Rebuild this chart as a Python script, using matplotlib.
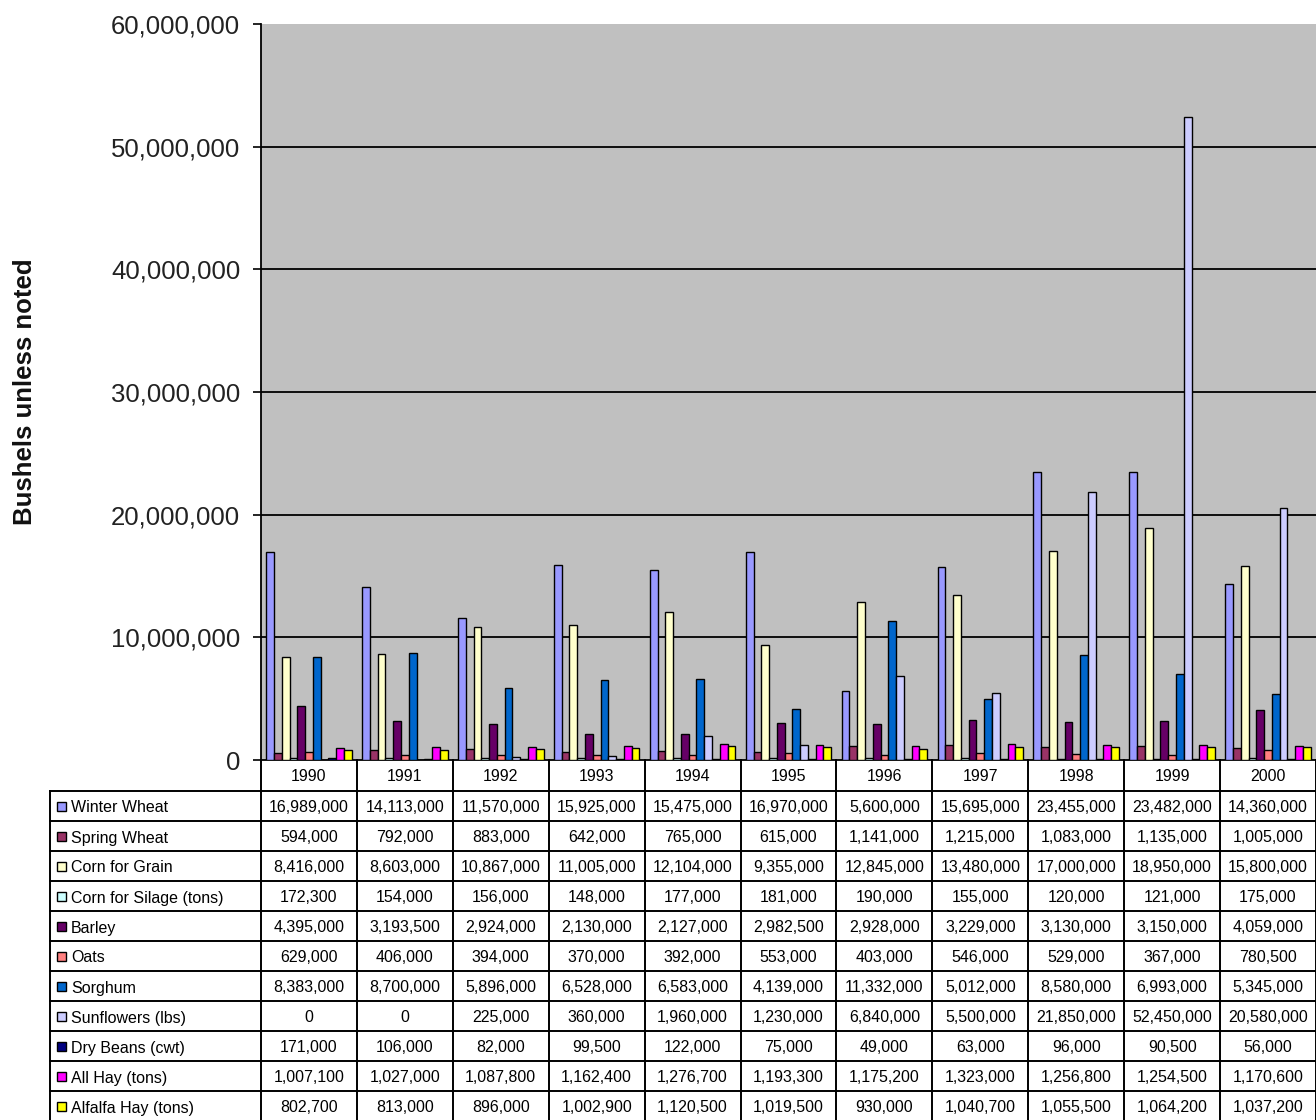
import numpy as np
import matplotlib
matplotlib.use('Agg')
import matplotlib.pyplot as plt
from matplotlib.patches import Rectangle

plt.rcParams['font.family'] = ['Liberation Sans', 'DejaVu Sans']

years = ['1990', '1991', '1992', '1993', '1994', '1995', '1996', '1997', '1998', '1999', '2000']

crops = ['Winter Wheat', 'Spring Wheat', 'Corn for Grain', 'Corn for Silage (tons)', 'Barley', 'Oats',
         'Sorghum', 'Sunflowers (lbs)', 'Dry Beans (cwt)', 'All Hay (tons)', 'Alfalfa Hay (tons)']

winter_wheat = [16989000, 14113000, 11570000, 15925000, 15475000, 16970000, 5600000, 15695000, 23455000, 23482000, 14360000]
spring_wheat = [594000, 792000, 883000, 642000, 765000, 615000, 1141000, 1215000, 1083000, 1135000, 1005000]
corn_grain = [8416000, 8603000, 10867000, 11005000, 12104000, 9355000, 12845000, 13480000, 17000000, 18950000, 15800000]
corn_silage = [172300, 154000, 156000, 148000, 177000, 181000, 190000, 155000, 120000, 121000, 175000]
barley = [4395000, 3193500, 2924000, 2130000, 2127000, 2982500, 2928000, 3229000, 3130000, 3150000, 4059000]
oats = [629000, 406000, 394000, 370000, 392000, 553000, 403000, 546000, 529000, 367000, 780500]
sorghum = [8383000, 8700000, 5896000, 6528000, 6583000, 4139000, 11332000, 5012000, 8580000, 6993000, 5345000]
sunflowers = [0, 0, 225000, 360000, 1960000, 1230000, 6840000, 5500000, 21850000, 52450000, 20580000]
dry_beans = [171000, 106000, 82000, 99500, 122000, 75000, 49000, 63000, 96000, 90500, 56000]
all_hay = [1007100, 1027000, 1087800, 1162400, 1276700, 1193300, 1175200, 1323000, 1256800, 1254500, 1170600]
alfalfa_hay = [802700, 813000, 896000, 1002900, 1120500, 1019500, 930000, 1040700, 1055500, 1064200, 1037200]

series = [winter_wheat, spring_wheat, corn_grain, corn_silage, barley, oats,
          sorghum, sunflowers, dry_beans, all_hay, alfalfa_hay]

colors = ['#9999FF', '#993366', '#FFFFCC', '#CCFFFF', '#660066', '#FF8080',
          '#0066CC', '#CCCCFF', '#000080', '#FF00FF', '#FFFF00']

W, H = 1316, 1120
fig = plt.figure(figsize=(W / 100, H / 100), dpi=100)

# plot area in pixel terms: x 261..1316, y 24..760
ax = fig.add_axes([261 / W, 1 - 760 / H, (W - 261) / W, (760 - 24) / H])
ax.set_facecolor('#C0C0C0')

x = np.arange(len(years))
n = len(series)
bar_w = 0.081
for i, (vals, c) in enumerate(zip(series, colors)):
    offs = (i - (n - 1) / 2) * bar_w
    ax.bar(x + offs, vals, width=bar_w, color=c, edgecolor='black', linewidth=1.0, zorder=3)

ax.set_xlim(-0.5, len(years) - 0.5)
ax.set_ylim(0, 60000000)
ax.set_yticks(np.arange(0, 60000001, 10000000))
ax.set_yticklabels([f'{v:,}' for v in range(0, 60000001, 10000000)])
ax.tick_params(axis='y', labelsize=18.5, length=6, width=1.2, pad=9, colors='black', labelcolor='#222222')
ax.set_xticks([])
for v in range(10000000, 60000000, 10000000):
    ax.axhline(v, color='black', linewidth=1.3, zorder=1)
for s in ['top', 'right']:
    ax.spines[s].set_visible(False)
ax.spines['left'].set_linewidth(1.3)
ax.spines['bottom'].set_linewidth(1.3)

fig.text(25 / W, 1 - 392 / H, 'Bushels unless noted', rotation=90, ha='center', va='center',
         fontsize=18.5, fontweight='bold', color='#111111')

# data table below the plot, drawn in pixel coordinates
tb = fig.add_axes([0, 0, 1, 1], zorder=5)
tb.set_xlim(0, W)
tb.set_ylim(H, 0)
tb.axis('off')
tb.patch.set_alpha(0)

col_x0 = 261
col_w = (W - col_x0) / len(years)
head_top, head_bot = 760, 791
row_h = 30
lab_x0 = 50
lw = 1.4

# header row (years)
for j, yr in enumerate(years):
    tb.text(col_x0 + (j + 0.5) * col_w, (head_top + head_bot) / 2 + 1, yr, ha='center', va='center', fontsize=11.5)
for j in range(len(years) + 1):
    xx = col_x0 + j * col_w
    tb.plot([xx, xx], [head_top, H], color='black', lw=lw)

bottom = head_bot + row_h * len(crops)
tb.plot([lab_x0, lab_x0], [head_bot, bottom], color='black', lw=lw)
for i in range(len(crops) + 1):
    yy = head_bot + i * row_h
    tb.plot([lab_x0, W], [yy, yy], color='black', lw=lw)

for i, (name, vals, c) in enumerate(zip(crops, series, colors)):
    yc = head_bot + (i + 0.5) * row_h + 1
    tb.add_patch(Rectangle((57, yc - 5), 9, 9, facecolor=c, edgecolor='black', lw=1.0))
    tb.text(71, yc + 1, name, ha='left', va='center', fontsize=11.5)
    for j, v in enumerate(vals):
        tb.text(col_x0 + (j + 0.5) * col_w, yc, f'{v:,}', ha='center', va='center', fontsize=11.5)

fig.savefig('out.png', dpi=100)
